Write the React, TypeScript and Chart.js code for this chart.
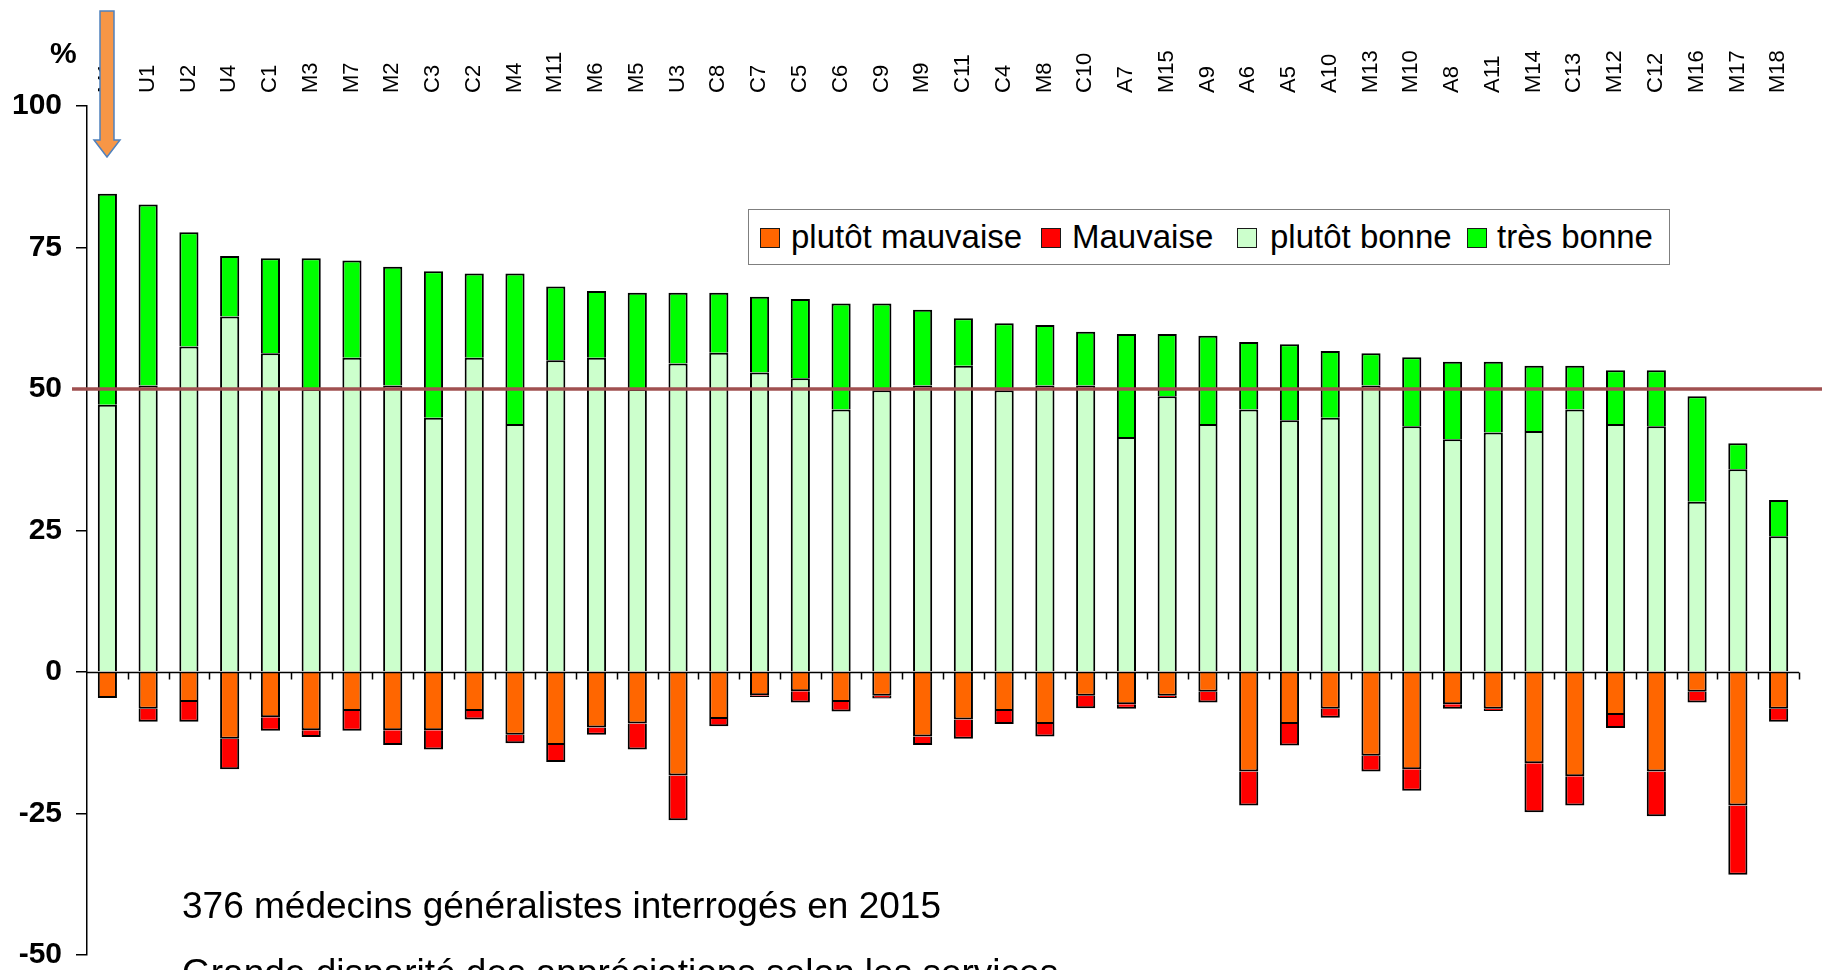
import { useEffect, useRef } from 'react';
import { Chart, registerables } from 'chart.js';

Chart.register(...registerables);

const FONT = "'Liberation Sans', Arial, Helvetica, sans-serif";

const categories = ['M1','U1','U2','U4','C1','M3','M7','M2','C3','C2','M4','M11','M6','M5','U3','C8','C7','C5','C6','C9','M9','C11','C4','M8','C10','A7','M15','A9','A6','A5','A10','M13','M10','A8','A11','M14','C13','M12','C12','M16','M17','M18'];

const plutotMauvaise = [-4.6,-6.5,-5.3,-11.8,-8.0,-10.3,-6.9,-10.3,-10.3,-6.9,-11.1,-12.9,-9.8,-9.1,-18.3,-8.3,-4.1,-3.4,-5.3,-4.2,-11.4,-8.4,-6.9,-9.2,-4.2,-5.7,-4.2,-3.5,-17.6,-9.2,-6.5,-14.8,-17.2,-5.7,-6.5,-16.1,-18.4,-7.6,-17.6,-3.5,-23.6,-6.5];
const mauvaise = [0,-2.3,-3.5,-5.4,-2.4,-1.2,-3.5,-2.6,-3.4,-1.5,-1.5,-3.0,-1.3,-4.6,-7.9,-1.3,-0.3,-2.0,-1.7,-0.5,-1.5,-3.4,-2.3,-2.2,-2.2,-0.8,-0.4,-1.9,-6.0,-3.8,-1.6,-2.8,-3.8,-0.8,-0.4,-8.7,-5.2,-2.3,-7.9,-1.9,-12.2,-2.3];
const plutotBonne = [47.2,50.6,57.5,62.8,56.3,50.0,55.5,50.6,44.9,55.5,43.8,55.1,55.5,50.0,54.5,56.4,52.9,51.9,46.4,49.8,50.6,54.1,49.8,50.6,50.6,41.5,48.7,43.8,46.4,44.5,44.9,50.6,43.4,41.1,42.3,42.6,46.4,43.8,43.4,30.1,35.8,24.0];
const tresBonne = [37.3,32.0,20.2,10.7,16.8,23.1,17.2,21.0,25.9,14.9,26.6,13.0,11.8,17.0,12.5,10.6,13.4,14.0,18.7,15.3,13.4,8.4,11.8,10.7,9.5,18.2,11.0,15.6,11.9,13.4,11.8,5.7,12.2,13.7,12.5,11.5,7.7,9.5,9.9,18.6,4.6,6.4];

const seriesNames = ['plutôt mauvaise', 'Mauvaise', 'plutôt bonne', 'très bonne'];
const seriesColors = ['#FF6600', '#FF0000', '#CCFFCC', '#00FF00'];
const yTicks = [-50, -25, 0, 25, 50, 75, 100];
const referenceLine = 50;
const yUnit = '%';
const notes = ['376 médecins généralistes interrogés en 2015', 'Grande disparité des appréciations selon les services'];

const overlayPlugin = {
  id: 'overlayLines',
  afterDatasetsDraw(chart: any) {
    const { ctx, chartArea } = chart;
    const xs = chart.scales.x;
    const ys = chart.scales.y;
    const y0 = Math.round(ys.getPixelForValue(0)) + 0.5;
    ctx.save();
    // zero axis with category tick marks
    ctx.strokeStyle = '#000000';
    ctx.lineWidth = 1.5;
    ctx.beginPath();
    ctx.moveTo(chartArea.left, y0);
    ctx.lineTo(chartArea.right, y0);
    for (let i = 1; i <= categories.length; i++) {
      const xb = Math.round(xs.getPixelForValue(i - 0.5)) + 0.5;
      ctx.moveTo(xb, y0);
      ctx.lineTo(xb, y0 + 7);
    }
    ctx.stroke();
    // reference line
    const yr = ys.getPixelForValue(referenceLine);
    ctx.strokeStyle = '#A05050';
    ctx.lineWidth = 3.5;
    ctx.beginPath();
    ctx.moveTo(chartArea.left - 15, yr);
    ctx.lineTo(chart.width, yr);
    ctx.stroke();
    ctx.restore();
  },
};

export default function App() {
  const canvasRef = useRef<HTMLCanvasElement | null>(null);

  useEffect(() => {
    document.body.style.margin = '0';
    document.body.style.overflow = 'hidden';
    document.documentElement.style.overflow = 'hidden';
    const canvas = canvasRef.current;
    if (!canvas) return;
    const seriesData = [plutotMauvaise, mauvaise, plutotBonne, tresBonne];
    const chart = new Chart(canvas, {
      type: 'bar',
      data: {
        labels: categories,
        datasets: seriesData.map((d, i) => ({
          label: seriesNames[i],
          data: d,
          backgroundColor: seriesColors[i],
          borderColor: '#000000',
          borderWidth: 2,
          barPercentage: 0.47,
          categoryPercentage: 1,
        })),
      },
      options: {
        responsive: false,
        animation: false,
        events: [],
        layout: { padding: { left: 0, top: 0, right: 23, bottom: 15 } },
        plugins: {
          legend: { display: false },
          tooltip: { enabled: false },
          title: { display: false },
        },
        scales: {
          x: {
            position: 'top',
            stacked: true,
            offset: true,
            grid: { display: false, drawTicks: false, offset: true },
            border: { display: false },
            ticks: {
              autoSkip: false,
              minRotation: 90,
              maxRotation: 90,
              padding: 13,
              labelOffset: 26,
              color: '#000000',
              font: { family: FONT, size: 22 },
            },
            afterFit: (s: any) => { s.height = 106; },
          },
          y: {
            stacked: true,
            min: -50,
            max: 100,
            afterBuildTicks: (s: any) => { s.ticks = yTicks.map((v) => ({ value: v })); },
            grid: { display: true, drawOnChartArea: false, drawTicks: true, tickLength: 11, tickColor: '#000000', color: '#000000', lineWidth: 1.5 },
            border: { display: true, color: '#000000', width: 1.5 },
            ticks: {
              padding: 14,
              color: '#000000',
              font: { family: FONT, size: 30, weight: 'bold', lineHeight: 1 },
              callback: (v: any) => String(v),
            },
            afterFit: (s: any) => { s.width = 87; s.paddingTop = 0; s.paddingBottom = 0; },
          },
        },
      } as any,
      plugins: [overlayPlugin],
    });
    return () => chart.destroy();
  }, []);

  const legendSquares = [760, 1041, 1237, 1467];
  const legendTexts = [791, 1072, 1270, 1497];

  return (
    <div style={{ position: 'relative', width: 1822, height: 970, overflow: 'hidden', background: '#ffffff', fontFamily: FONT, color: '#000' }}>
      <canvas ref={canvasRef} width={1822} height={970} style={{ position: 'absolute', left: 0, top: 0, width: 1822, height: 970 }} />
      <div style={{ position: 'absolute', left: 50, top: 38, fontSize: 30, lineHeight: '30px', fontWeight: 'bold' }}>{yUnit}</div>
      <div style={{ position: 'absolute', left: 748, top: 209, width: 922, height: 56, border: '1.5px solid #7f7f7f', boxSizing: 'border-box', background: '#ffffff' }} />
      {seriesNames.map((name, i) => (
        <div key={name}>
          <div style={{ position: 'absolute', left: legendSquares[i], top: 228, width: 20, height: 20, boxSizing: 'border-box', border: '1.5px solid #1a1a1a', background: seriesColors[i] }} />
          <div style={{ position: 'absolute', left: legendTexts[i], top: 220, fontSize: 33, lineHeight: '33px', whiteSpace: 'nowrap' }}>{name}</div>
        </div>
      ))}
      <div style={{ position: 'absolute', left: 182, top: 887, fontSize: 37, lineHeight: '37px', whiteSpace: 'nowrap' }}>{notes[0]}</div>
      <div style={{ position: 'absolute', left: 182, top: 954, fontSize: 37, lineHeight: '37px', whiteSpace: 'nowrap' }}>{notes[1]}</div>
      <svg width={1822} height={970} style={{ position: 'absolute', left: 0, top: 0, pointerEvents: 'none' }}>
        <polygon points="100,11 114,11 114,140 120,140 107,157 94,140 100,140" fill="#F79646" stroke="#4F81BD" strokeWidth={1.5} />
      </svg>
    </div>
  );
}
